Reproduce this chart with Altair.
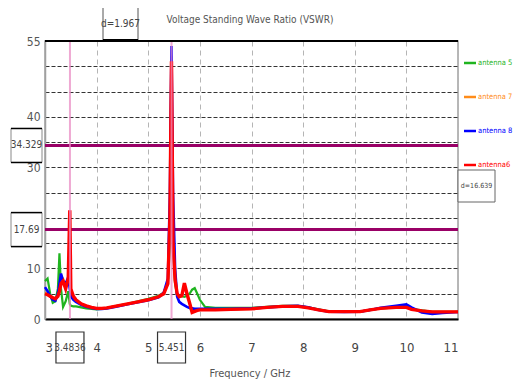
import altair as alt
import pandas as pd

# ---------------- data ----------------
freq = [3.0, 3.05, 3.1, 3.15, 3.2, 3.25, 3.28, 3.31, 3.35, 3.4, 3.45, 3.48, 3.5, 3.55, 3.6,
        3.7, 3.8, 3.9, 4.0, 4.1, 4.2, 4.4, 4.6, 4.8, 5.0, 5.2, 5.3, 5.38, 5.42, 5.45,
        5.48, 5.52, 5.56, 5.6, 5.65, 5.7, 5.75, 5.8, 5.85, 5.9, 5.95, 6.0, 6.1, 6.3, 6.6,
        7.0, 7.3, 7.6, 7.9, 8.1, 8.3, 8.5, 8.8, 9.1, 9.3, 9.5, 9.8, 10.0, 10.1, 10.3, 10.5,
        10.7, 11.0]

ant5 = [7.5, 8.0, 5.0, 3.2, 3.5, 6.0, 13.0, 6.0, 2.4, 3.5, 5.5, 3.0, 2.6, 2.5, 2.5,
        2.3, 2.1, 2.0, 1.9, 2.0, 2.2, 2.6, 3.0, 3.5, 4.0, 4.6, 5.2, 7.0, 15.0, 35.0,
        14.0, 7.0, 4.6, 4.4, 4.5, 4.4, 4.6, 5.0, 5.8, 6.1, 5.0, 3.8, 2.4, 2.2, 2.2,
        2.2, 2.4, 2.6, 2.6, 2.3, 1.9, 1.5, 1.4, 1.45, 1.8, 2.1, 2.3, 2.4, 2.0, 1.7, 1.4,
        1.4, 1.4]

ant7 = [5.2, 5.0, 4.6, 4.3, 4.1, 4.8, 6.0, 8.6, 8.0, 6.2, 7.6, 12.0, 5.5, 4.4, 3.8,
        3.0, 2.6, 2.3, 2.1, 2.1, 2.2, 2.6, 3.0, 3.4, 3.8, 4.4, 5.0, 7.0, 20.0, 52.0,
        15.0, 7.5, 5.0, 4.4, 4.6, 6.8, 5.0, 3.2, 1.4, 1.5, 1.7, 1.8, 1.8, 1.8, 1.9,
        2.0, 2.3, 2.5, 2.5, 2.2, 1.8, 1.45, 1.45, 1.45, 1.8, 2.1, 2.3, 2.3, 1.9, 1.6, 1.4,
        1.4, 1.4]

ant8 = [6.3, 5.5, 4.5, 3.8, 3.6, 5.0, 7.0, 9.0, 7.5, 7.0, 8.3, 6.0, 4.5, 3.8, 3.4,
        2.8, 2.4, 2.2, 2.0, 2.0, 2.1, 2.5, 2.9, 3.3, 3.7, 4.3, 5.2, 8.0, 25.0, 54.0,
        25.0, 10.0, 4.4, 3.4, 3.0, 2.7, 2.4, 2.2, 2.1, 2.0, 2.0, 2.0, 2.0, 2.0, 2.0,
        2.1, 2.3, 2.5, 2.6, 2.3, 1.8, 1.45, 1.4, 1.45, 1.8, 2.2, 2.6, 2.9, 2.3, 1.3, 1.0,
        1.2, 1.4]

ant6 = [5.0, 4.8, 4.5, 4.2, 4.0, 4.5, 5.5, 7.0, 7.5, 6.0, 8.0, 21.5, 6.0, 4.5, 3.8,
        3.0, 2.6, 2.3, 2.1, 2.1, 2.2, 2.6, 3.0, 3.4, 3.8, 4.4, 5.0, 7.0, 20.0, 51.0,
        15.0, 7.7, 5.0, 4.4, 4.6, 7.1, 5.0, 3.2, 1.3, 1.5, 1.7, 1.8, 1.8, 1.8, 1.9,
        2.0, 2.3, 2.5, 2.5, 2.2, 1.8, 1.45, 1.45, 1.45, 1.8, 2.1, 2.3, 2.3, 1.9, 1.6, 1.4,
        1.4, 1.4]

series_names = ["antenna 5", "antenna 7", "antenna 8", "antenna6"]
series_values = [ant5, ant7, ant8, ant6]
series_colors = ["#1fb41f", "#ff8c1a", "#0000ff", "#ff0000"]
series_widths = [2.2, 2.2, 2.6, 3.4]

x_ticks = [3, 4, 5, 6, 7, 8, 9, 10, 11]
y_grid = [0, 5, 10, 15, 20, 25, 30, 35, 40, 45, 50, 55]
y_labels = [0, 10, 30, 40, 55]

marker_freqs = [3.4836, 5.451]
marker_labels = ["3.4836", "5.451"]
level_values = [34.329, 17.69]
level_labels = ["34.329", "17.69"]

title_text = "Voltage Standing Wave Ratio (VSWR)"
x_title = "Frequency / GHz"
dx_label = "d=1.967"
dy_label = "d=16.639"

# ---------------- chart ----------------
FONT = "DejaVu Sans Condensed, Liberation Sans Narrow, Liberation Sans, sans-serif"
W, H = 413, 278

rows = []
for name, vals in zip(series_names, series_values):
    for f, v in zip(freq, vals):
        rows.append({"freq": f, "vswr": v, "series": name})
df = pd.DataFrame(rows)

xs = alt.Scale(domain=[3, 11], nice=False, zero=False)
ys = alt.Scale(domain=[0, 55], nice=False)

label_expr = "indexof([" + ",".join(str(v) for v in y_labels) + "], datum.value) >= 0 ? datum.label : ''"

x_axis = alt.Axis(values=x_ticks, grid=True, gridDash=[5, 4], gridColor="#b5b5b5",
                  ticks=False, labelPadding=22, domainColor="black", domainWidth=2,
                  labelFont=FONT, labelFontSize=13, labelColor="#444", title=None)
y_axis = alt.Axis(values=y_grid, grid=True, gridDash=[4, 2], gridColor="#333",
                  ticks=False, labelPadding=5, domainColor="#a0a0a0", domainWidth=1.5,
                  labelExpr=label_expr, labelFont=FONT, labelFontSize=12, labelColor="#555",
                  title=None)

X = lambda: alt.X("freq:Q", scale=xs, axis=x_axis)
Y = lambda field="vswr:Q": alt.Y(field, scale=ys, axis=y_axis)

layers = []

levels_df = pd.DataFrame({"level": level_values, "label": level_labels})
markers_df = pd.DataFrame({"freq": marker_freqs, "label": marker_labels})

# level lines
layers.append(alt.Chart(levels_df).mark_rule(color="#990066", strokeWidth=3).encode(
    y=Y("level:Q")))

# curves
for name, color, width in zip(series_names, series_colors, series_widths):
    layers.append(alt.Chart(df).transform_filter(alt.datum.series == name).mark_line(
        color=color, strokeWidth=width).encode(x=X(), y=Y(), order="freq:Q"))

# marker verticals (drawn over the curves, semi transparent)
layers.append(alt.Chart(markers_df).mark_rule(color="#ea8cc4", strokeWidth=2, opacity=0.75).encode(
    x=X()))

# top frame line
layers.append(alt.Chart(pd.DataFrame({"a": [0]})).mark_rule(color="black", strokeWidth=2).encode(
    x=alt.value(0), x2=alt.value(W), y=alt.value(0)))

# level label boxes
layers.append(alt.Chart(levels_df).mark_rect(fill="white", stroke="#888", strokeWidth=1,
                                             yOffset=-17, y2Offset=17).encode(
    x=alt.value(-34), x2=alt.value(-3), y=Y("level:Q"), y2="level:Q"))
for off in (-17, 17):
    layers.append(alt.Chart(levels_df).mark_rule(color="black", strokeWidth=1.5, yOffset=off).encode(
        x=alt.value(-34), x2=alt.value(-3), y=Y("level:Q")))
layers.append(alt.Chart(levels_df).mark_text(font=FONT, fontSize=10, color="#444").encode(
    x=alt.value(-18.5), y=Y("level:Q"), text="label:N"))

# marker label boxes
layers.append(alt.Chart(markers_df).mark_rect(fill="white", stroke="#333", strokeWidth=1.2,
                                              xOffset=-14, x2Offset=14).encode(
    x=X(), x2="freq:Q", y=alt.value(291), y2=alt.value(322)))
layers.append(alt.Chart(markers_df).mark_text(font=FONT, fontSize=10, color="#444").encode(
    x=X(), y=alt.value(307), text="label:N"))

# d=1.967 box (top)
top_df = pd.DataFrame({"t": [dx_label]})
layers.append(alt.Chart(top_df).mark_rect(fill="white", stroke="#555", strokeWidth=1).encode(
    x=alt.value(58), x2=alt.value(93), y=alt.value(-34), y2=alt.value(-1)))
layers.append(alt.Chart(top_df).mark_rule(color="black", strokeWidth=2).encode(
    x=alt.value(58), x2=alt.value(93), y=alt.value(-1)))
layers.append(alt.Chart(top_df).mark_text(font=FONT, fontSize=10, color="#444").encode(
    x=alt.value(75.5), y=alt.value(-17), text="t:N"))

# d=16.639 box (right)
right_df = pd.DataFrame({"t": [dy_label]})
layers.append(alt.Chart(right_df).mark_rect(fill="white", stroke="#666", strokeWidth=1).encode(
    x=alt.value(413), x2=alt.value(450), y=alt.value(129), y2=alt.value(161)))
layers.append(alt.Chart(right_df).mark_text(font=FONT, fontSize=7, color="#444").encode(
    x=alt.value(431.5), y=alt.value(145), text="t:N"))

# title and x title
layers.append(alt.Chart(pd.DataFrame({"t": [title_text]})).mark_text(
    font=FONT, fontSize=10, color="#555").encode(x=alt.value(205), y=alt.value(-21), text="t:N"))
layers.append(alt.Chart(pd.DataFrame({"t": [x_title]})).mark_text(
    font=FONT, fontSize=11, color="#555").encode(x=alt.value(205), y=alt.value(333), text="t:N"))

# legend
for i, (name, color) in enumerate(zip(series_names, series_colors)):
    ypos = 22 + 34 * i
    ldf = pd.DataFrame({"t": [name]})
    layers.append(alt.Chart(ldf).mark_rule(color=color, strokeWidth=2.5).encode(
        x=alt.value(419), x2=alt.value(431), y=alt.value(ypos)))
    layers.append(alt.Chart(ldf).mark_text(font=FONT, fontSize=7.5, align="left", color=color).encode(
        x=alt.value(433), y=alt.value(ypos), text="t:N"))

chart = alt.layer(*layers).properties(
    width=W, height=H,
    autosize=alt.AutoSizeParams(type="none"),
    padding={"left": 37, "top": 33, "right": 57, "bottom": 64},
).configure_view(stroke="#a0a0a0", strokeWidth=1.5)

chart.save("out.html", embed_options={"renderer": "svg", "actions": False})
